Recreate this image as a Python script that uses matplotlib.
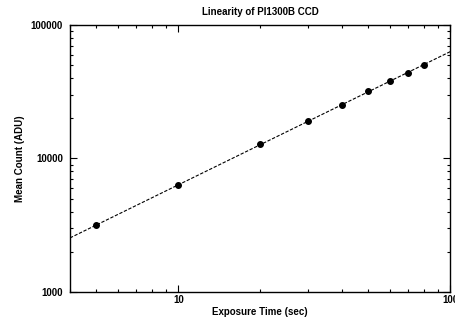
import numpy as np
import matplotlib.pyplot as plt
from matplotlib.ticker import LogLocator, NullFormatter, FixedLocator, FixedFormatter

# exposure times (sec) and measured mean counts (ADU)
exposure = [5, 10, 20, 30, 40, 50, 60, 70, 80]
counts = [3160, 6330, 12800, 19000, 25300, 32000, 38000, 43500, 50500]

plt.rcParams['font.family'] = ['Liberation Sans', 'DejaVu Sans']
plt.rcParams['font.weight'] = 'bold'

fig = plt.figure(figsize=(4.56, 3.2), dpi=100)
ax = fig.add_axes([0.1535, 0.0875, 0.834, 0.8345])

# linear fit in log space
slope, icpt = np.polyfit(np.log10(exposure), np.log10(counts), 1)
xf = np.array([4, 100])
ax.plot(xf, 10 ** (icpt + slope * np.log10(xf)), color='black', lw=0.8,
        linestyle=(0, (3, 1.5)))
ax.plot(exposure, counts, 'o', color='black', ms=4)

ax.set_xscale('log')
ax.set_yscale('log')
ax.set_xlim(4, 100)
ax.set_ylim(1000, 100000)

ax.xaxis.set_major_locator(FixedLocator([10, 100]))
ax.xaxis.set_major_formatter(FixedFormatter(['10', '100']))
ax.xaxis.set_minor_locator(LogLocator(base=10, subs=np.arange(2, 10)))
ax.xaxis.set_minor_formatter(NullFormatter())
ax.yaxis.set_major_locator(FixedLocator([1000, 10000, 100000]))
ax.yaxis.set_major_formatter(FixedFormatter(['1000', '10000', '100000']))
ax.yaxis.set_minor_locator(LogLocator(base=10, subs=np.arange(2, 10)))
ax.yaxis.set_minor_formatter(NullFormatter())

ax.tick_params(which='both', direction='in', top=True, right=True,
               labelsize=7, width=0.8)
ax.tick_params(which='major', length=5)
ax.tick_params(axis='x', which='major', pad=2.5)
ax.tick_params(axis='y', which='major', pad=5)
ax.tick_params(which='minor', length=2.5)
for s in ax.spines.values():
    s.set_linewidth(1.0)

ax.set_title('Linearity of PI1300B CCD', fontsize=7, fontweight='bold', pad=7)
ax.set_xlabel('Exposure Time (sec)', fontsize=7, fontweight='bold', labelpad=1)
ax.set_ylabel('Mean Count (ADU)', fontsize=7, fontweight='bold', labelpad=4)

fig.savefig('out.png', dpi=100)
